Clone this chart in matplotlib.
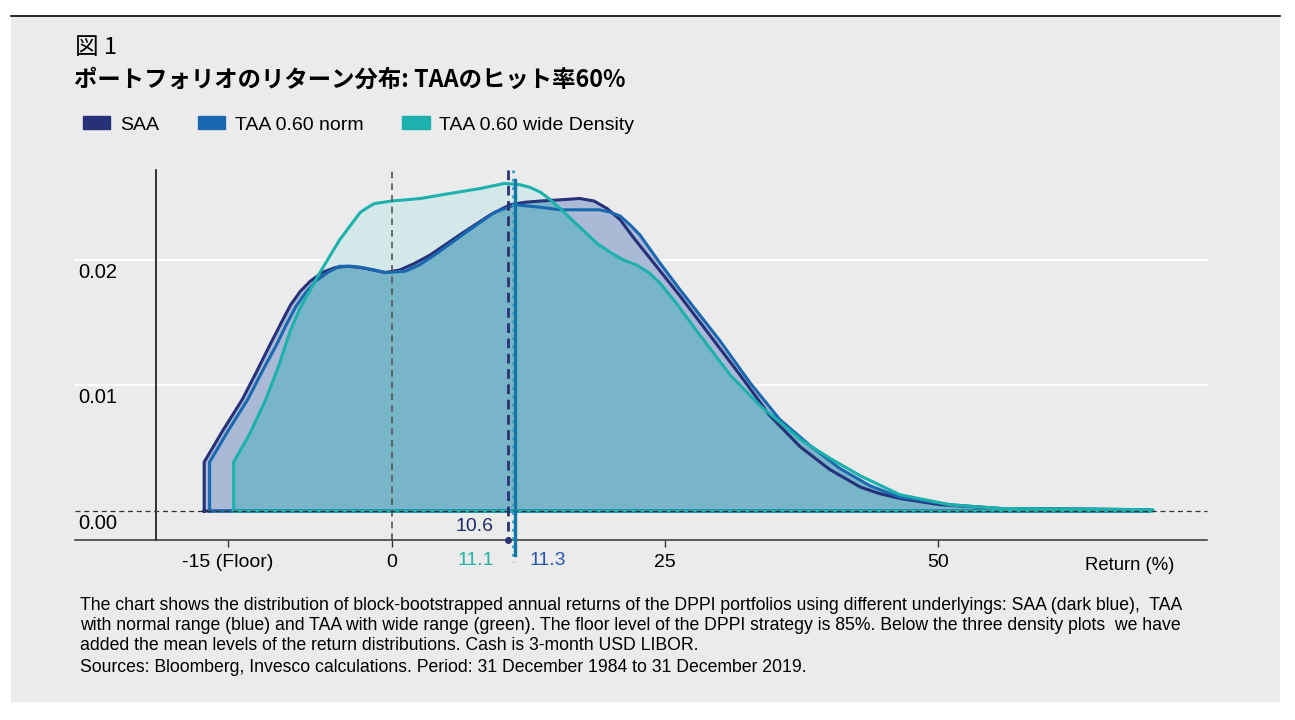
import numpy as np
import matplotlib.pyplot as plt
from matplotlib.patches import Patch, Rectangle
from matplotlib.lines import Line2D

plt.rcParams['font.family'] = ['Liberation Sans', 'Noto Sans CJK JP']

# リターン(%) と 密度
saa_x = [-17.2, -17.2, -15.5, -13.7, -12.4, -11.2, -10.2, -9.3, -8.4, -7.5, -6.4, -5.2, -4.0,
         -2.9, -1.7, -0.6, 0.7, 2.0, 3.5, 6.2, 9.0, 10.8, 12.2, 13.6, 15.5, 17.2, 18.5, 19.7,
         20.9, 22.1, 24.3, 26.4, 28.5, 31.9, 34.6, 37.4, 40.1, 42.9, 44.6, 46.5, 50.2, 55.7,
         63.0, 69.4, 69.4]
saa_y = [0.0, 0.0039, 0.0064, 0.0089, 0.0111, 0.0132, 0.0149, 0.0164, 0.0175, 0.0183, 0.0190,
         0.0194, 0.0195, 0.0194, 0.0192, 0.0190, 0.0192, 0.0197, 0.0204, 0.0220, 0.0236, 0.0244,
         0.0246, 0.0247, 0.0248, 0.0249, 0.0247, 0.0241, 0.0232, 0.0218, 0.0194, 0.0171,
         0.0147, 0.0108, 0.0076, 0.0051, 0.0033, 0.0019, 0.0014, 0.0010, 0.0005, 0.0002,
         0.00015, 0.0001, 0.0]

norm_x = [-16.7, -16.7, -15.0, -13.2, -11.9, -10.6, -9.7, -8.8, -7.9, -7.0, -5.9, -4.8, -3.7,
          -2.7, -1.6, -0.6, 1.2, 2.5, 3.9, 7.1, 9.4, 11.3, 13.6, 15.4, 19.0, 20.0, 20.9, 21.8,
          22.7, 24.5, 26.4, 28.2, 30.0, 32.8, 35.5, 38.3, 41.0, 43.8, 46.5, 51.1, 55.7, 69.4,
          69.4]
norm_y = [0.0, 0.0039, 0.0064, 0.0089, 0.0111, 0.0132, 0.0148, 0.0163, 0.0174, 0.0183, 0.0190,
          0.0195, 0.0195, 0.0194, 0.0192, 0.0190, 0.0191, 0.0196, 0.0204, 0.0224, 0.0238, 0.0244,
          0.0242, 0.0240, 0.0240, 0.0238, 0.0235, 0.0228, 0.0220, 0.0198, 0.0176, 0.0156,
          0.0136, 0.0102, 0.0073, 0.0052, 0.0034, 0.0020, 0.0011, 0.0005, 0.0002, 0.0001, 0.0]

wide_x = [-14.5, -14.5, -13.0, -11.6, -10.4, -9.3, -8.4, -7.5, -6.6, -4.8, -2.9, -2.2, -1.6,
          -0.8, 0.0, 2.6, 5.3, 8.1, 10.3, 11.7, 12.6, 13.6, 14.5, 15.4, 16.6, 17.7, 18.8, 20.0,
          21.2, 22.4, 23.5, 24.5, 26.0, 27.6, 31.0, 33.7, 37.4, 40.1, 42.9, 46.5, 51.1, 55.7,
          64.8, 69.7, 69.7]
wide_y = [0.0, 0.0039, 0.0062, 0.0088, 0.0115, 0.0144, 0.0162, 0.0176, 0.0190, 0.0216, 0.0238,
          0.0242, 0.0245, 0.0246, 0.0247, 0.0249, 0.0253, 0.0257, 0.0261, 0.0260, 0.0258,
          0.0254, 0.0248, 0.0241, 0.0231, 0.0222, 0.0213, 0.0206, 0.0200, 0.0196, 0.0190,
          0.0182, 0.0166, 0.0147, 0.0108, 0.0084, 0.0057, 0.0042, 0.0028, 0.0013, 0.0005,
          0.0002, 0.00015, 0.0001, 0.0]

mean_saa, mean_wide, mean_norm = 10.6, 11.1, 11.3

x_ticks = [-15, 0, 25, 50]
x_tick_labels = ['-15 (Floor)', '0', '25', '50']
y_ticks = [0.0, 0.01, 0.02]
y_tick_labels = ['0.00', '0.01', '0.02']

series_names = ['SAA', 'TAA 0.60 norm', 'TAA 0.60 wide Density']

title = 'ポートフォリオのリターン分布: TAAのヒット率60%'
note_lines = [
    'The chart shows the distribution of block-bootstrapped annual returns of the DPPI portfolios using different underlyings: SAA (dark blue),  TAA',
    'with normal range (blue) and TAA with wide range (green). The floor level of the DPPI strategy is 85%. Below the three density plots  we have',
    'added the mean levels of the return distributions. Cash is 3-month USD LIBOR.',
    'Sources: Bloomberg, Invesco calculations. Period: 31 December 1984 to 31 December 2019.',
]

c_saa = '#27317a'
c_norm = '#1a68b0'
c_wide = '#1db1ad'
c_fill = '#78b5c8'
c_lav = '#aab9d6'
c_pale = '#d4e8e9'
bg = '#ebebeb'

W, H = 1295, 720
fig = plt.figure(figsize=(W / 100, H / 100), dpi=100, facecolor='white')
fig.patches.append(Rectangle((11 / W, 1 - 702 / H), 1269 / W, 685 / H,
                             transform=fig.transFigure, facecolor=bg, edgecolor='none', zorder=-10))
fig.lines.append(Line2D([11 / W, 1280 / W], [1 - 16 / H, 1 - 16 / H],
                        transform=fig.transFigure, color='black', lw=1.2))

ax = fig.add_axes([156 / W, 1 - 540 / H, 1051 / W, 370 / H])
ax.set_facecolor('none')
ax.set_xlim(-21.61, 74.63)
ax.set_ylim(-0.00231, 0.02717)
ext = -81 / 1051

for v in y_ticks[1:]:
    ax.axhline(v, xmin=ext, xmax=1, color='white', lw=1.3, zorder=0.5, clip_on=False)

# fills
ax.fill(wide_x, wide_y, color=c_pale, lw=0, zorder=1)
p_saa = ax.fill(saa_x, saa_y, color=c_lav, lw=0, zorder=1.1)[0]
p_norm = ax.fill(norm_x, norm_y, color=c_lav, lw=0, zorder=1.1)[0]
m1 = ax.fill(wide_x, wide_y, color=c_fill, lw=0, zorder=1.2)[0]
m1.set_clip_path(p_saa)
m2 = ax.fill(wide_x, wide_y, color=c_fill, lw=0, zorder=1.2)[0]
m2.set_clip_path(p_norm)

for xs, ys, c, z in [(saa_x, saa_y, c_saa, 3), (norm_x, norm_y, c_norm, 3.1), (wide_x, wide_y, c_wide, 3.2)]:
    ax.plot(np.append(xs, xs[0]), np.append(ys, 0.0), color=c, lw=2.2, zorder=z,
            solid_joinstyle='round')

ax.axhline(0, xmin=ext, xmax=1, color='#333333', lw=0.9, ls=(0, (4, 3)), zorder=5, clip_on=False)
ax.axhline(-0.00231, xmin=ext, xmax=1, color='#333333', lw=1.1, zorder=5, clip_on=False)
ax.axvline(0, color='#555555', lw=1.2, ls=(0, (4, 3)), zorder=4)

# mean lines
yb, yt = ax.get_ylim()
ax.plot([mean_wide, mean_wide], [yt, -0.00406], color='#3a9fc9', lw=2, ls=(0, (1, 2)),
        zorder=6, clip_on=False)
ax.plot([mean_saa, mean_saa], [yt, yb], color='#2b3272', lw=2, ls=(0, (3.5, 2)), zorder=6,
        clip_on=False)
ax.plot([mean_saa], [yb], marker='o', ms=4, color='#2b3272', zorder=6, clip_on=False)
ax.plot([mean_norm, mean_norm], [0.02637, -0.00351], color='#1677a6', lw=2.4, zorder=7,
        clip_on=False)

ax.annotate(f'{mean_saa}', xy=(9.3, -0.00127), ha='right', va='center', fontsize=14,
            color='#1f2a6b')
ax.annotate(f'{mean_wide}', xy=(9.3, -0.00398), ha='right', va='center', fontsize=14,
            color='#26b3a6', annotation_clip=False)
ax.annotate(f'{mean_norm}', xy=(12.6, -0.00398), ha='left', va='center', fontsize=14,
            color='#2a56b0', annotation_clip=False)

for s in ['top', 'right', 'bottom']:
    ax.spines[s].set_visible(False)
ax.spines['left'].set_color('black')
ax.spines['left'].set_linewidth(1.1)

ax.set_xticks(x_ticks)
ax.set_xticklabels(x_tick_labels, fontsize=14)
ax.tick_params(axis='x', length=5, width=1, color='#333333', pad=5)
ax.set_yticks([])
for v, lab in zip(y_ticks, y_tick_labels):
    ax.annotate(lab, xy=(-78 / 1051, v), xycoords=ax.get_yaxis_transform(),
                xytext=(0, -9), textcoords='offset points', ha='left', va='center',
                fontsize=14.5, annotation_clip=False)

fig.text(1130 / W, 1 - 565 / H, 'Return (%)', ha='center', va='center', fontsize=13.3)

fig.text(75 / W, 1 - 47 / H, '図 1', fontsize=17, va='center',
         family=['Noto Sans CJK JP', 'DejaVu Sans'])
fig.text(74 / W, 1 - 80 / H, title, fontsize=16.8, fontweight='bold', va='center',
         family=['Noto Sans CJK JP', 'DejaVu Sans'])

handles = [Patch(color=c) for c in [c_saa, c_norm, c_wide]]
fig.legend(handles, series_names, loc='center left', bbox_to_anchor=(83 / W, 1 - 125 / H),
           ncol=3, frameon=False, fontsize=14, handlelength=1.4, handleheight=0.6,
           handletextpad=0.5, columnspacing=2.0, borderaxespad=0, borderpad=0)

for i, line in enumerate(note_lines):
    yy = [606, 626, 646, 668][i]
    fig.text(80 / W, 1 - yy / H, line, fontsize=12.7, va='center')

fig.savefig('out.png', dpi=100, facecolor='white')
